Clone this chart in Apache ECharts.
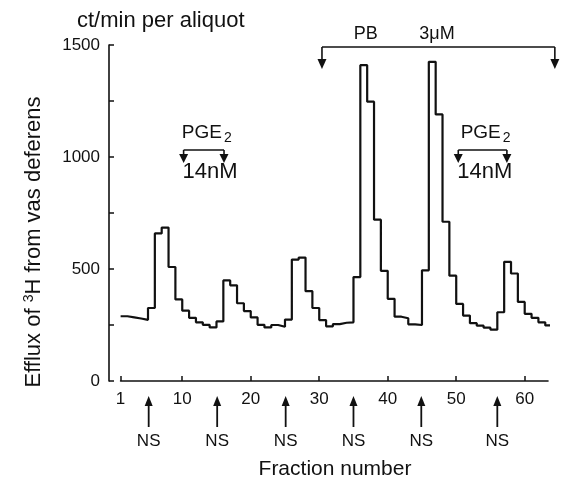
<!DOCTYPE html>
<html><head><meta charset="utf-8">
<script src="https://cdn.jsdelivr.net/npm/echarts@6/dist/echarts.min.js"></script>
<style>html,body{margin:0;padding:0;background:#fff}#c{width:561px;height:485px}</style>
</head><body><div id="c"></div>
<script>
// ---- data ----
const fractions = [];
for (let f = 1; f <= 63; f++) fractions.push(f);
const efflux = [
  289, 284, 279, 273,
  326, 659, 685, 509, 364,
  314, 282, 262, 251, 239,
  266, 449, 427, 347, 312,
  284, 251, 239, 250, 242,
  274, 542, 551, 401, 326,
  272, 244, 254, 260, 262,
  464, 1410, 1247, 720, 492,
  367, 287, 280, 253, 250,
  494, 1425, 1190, 711, 470,
  344, 292, 258, 247, 238,
  229, 307, 532, 480, 353,
  300, 282, 262, 248
];
const endFraction = 64.1;
const xTickLabels = [1, 10, 20, 30, 40, 50, 60];
const yTickLabels = [0, 500, 1000, 1500];
const nsFractions = [5.1, 15.1, 25.1, 35, 44.9, 56];
const pbRange = [30.4, 64.4];
const pbLabels = [{ text: 'PB', f: 36.8 }, { text: '3μM', f: 47.2 }];
const pgeRanges = [[10.2, 16.1], [50.3, 57.4]];

const FONT = '"Liberation Sans", Arial, sans-serif';
const INK = '#111';

const lineData = fractions.map((f, i) => [f, efflux[i]]);
lineData.push([endFraction, efflux[efflux.length - 1]]);

const chart = echarts.init(document.getElementById('c'), null, { renderer: 'canvas' });
chart.setOption({
  animation: false,
  backgroundColor: '#fff',
  grid: { left: 120.6, right: 13, top: 45, bottom: 104 },
  xAxis: {
    type: 'value', min: 1, max: 63.4, offset: 4,
    axisLine: { show: true, lineStyle: { color: INK, width: 1.6 } },
    axisTick: { show: true, inside: true, length: 5, lineStyle: { color: INK, width: 1.5 }, customValues: xTickLabels },
    axisLabel: { customValues: xTickLabels, color: INK, fontFamily: FONT, fontSize: 17, margin: 6, formatter: v => String(v) },
    splitLine: { show: false }
  },
  yAxis: {
    type: 'value', min: 0, max: 1500, interval: 250, offset: 11.6,
    axisLine: { show: true, lineStyle: { color: INK, width: 1.6 } },
    axisTick: { show: true, inside: true, length: 5, lineStyle: { color: INK, width: 1.5 } },
    axisLabel: { customValues: yTickLabels, color: INK, fontFamily: FONT, fontSize: 17, margin: 9, formatter: v => String(v) },
    splitLine: { show: false }
  },
  series: [{
    type: 'line', step: 'end', data: lineData, symbol: 'none', clip: false,
    lineStyle: { color: INK, width: 2.2 }
  }]
});

const px = f => chart.convertToPixel({ xAxisIndex: 0 }, f);
const g = [];
const line = (x1, y1, x2, y2, w) => g.push({ type: 'line', shape: { x1, y1, x2, y2 }, style: { stroke: INK, lineWidth: w || 1.6 } });
const tri = (pts) => g.push({ type: 'polygon', shape: { points: pts }, style: { fill: INK } });
const txt = (x, y, text, size, align, extra) => g.push({
  type: 'text', x, y,
  style: Object.assign({ text, fill: INK, font: size + 'px ' + FONT, align: align || 'center', verticalAlign: 'middle' }, extra || {})
});

// NS arrows
nsFractions.forEach(f => {
  const x = px(f);
  line(x, 427, x, 404, 1.8);
  tri([[x - 4, 406], [x + 4, 406], [x, 396]]);
  txt(x, 441, 'NS', 17);
});

// PB bracket
{
  const x1 = px(pbRange[0]), x2 = px(pbRange[1]);
  line(x1, 47, x2, 47, 1.6);
  [x1, x2].forEach(x => { line(x, 47, x, 60, 1.6); tri([[x - 4.5, 59], [x + 4.5, 59], [x, 69]]); });
  pbLabels.forEach(l => txt(px(l.f), 34, l.text, 18));
}

// PGE2 brackets
pgeRanges.forEach(r => {
  const x1 = px(r[0]), x2 = px(r[1]);
  line(x1, 150, x2, 150, 1.6);
  [x1, x2].forEach(x => { line(x, 150, x, 155, 1.6); tri([[x - 4.5, 154], [x + 4.5, 154], [x, 163]]); });
  g.push({
    type: 'text', x: (x1 + x2) / 2 + 3, y: 133,
    style: {
      text: 'PGE{s|2}', fill: INK, font: '19px ' + FONT, align: 'center', verticalAlign: 'middle',
      rich: { s: { fontSize: 14, fontFamily: FONT, fill: INK, padding: [10, 0, 0, 2] } }
    }
  });
  txt(x1 - 1, 172, '14nM', 22, 'left');
});

// titles
txt(77, 21, 'ct/min per aliquot', 22, 'left');
txt(335, 469, 'Fraction number', 21);
g.push({
  type: 'text', x: 34, y: 242, rotation: Math.PI / 2,
  style: {
    text: 'Efflux of {s|3}H from vas deferens', fill: INK, font: '22px ' + FONT, align: 'center', verticalAlign: 'middle',
    rich: { s: { fontSize: 14, fontFamily: FONT, fill: INK, padding: [0, 0, 10, 0] } }
  }
});

chart.setOption({ graphic: { elements: g } });
</script>
</body></html>
